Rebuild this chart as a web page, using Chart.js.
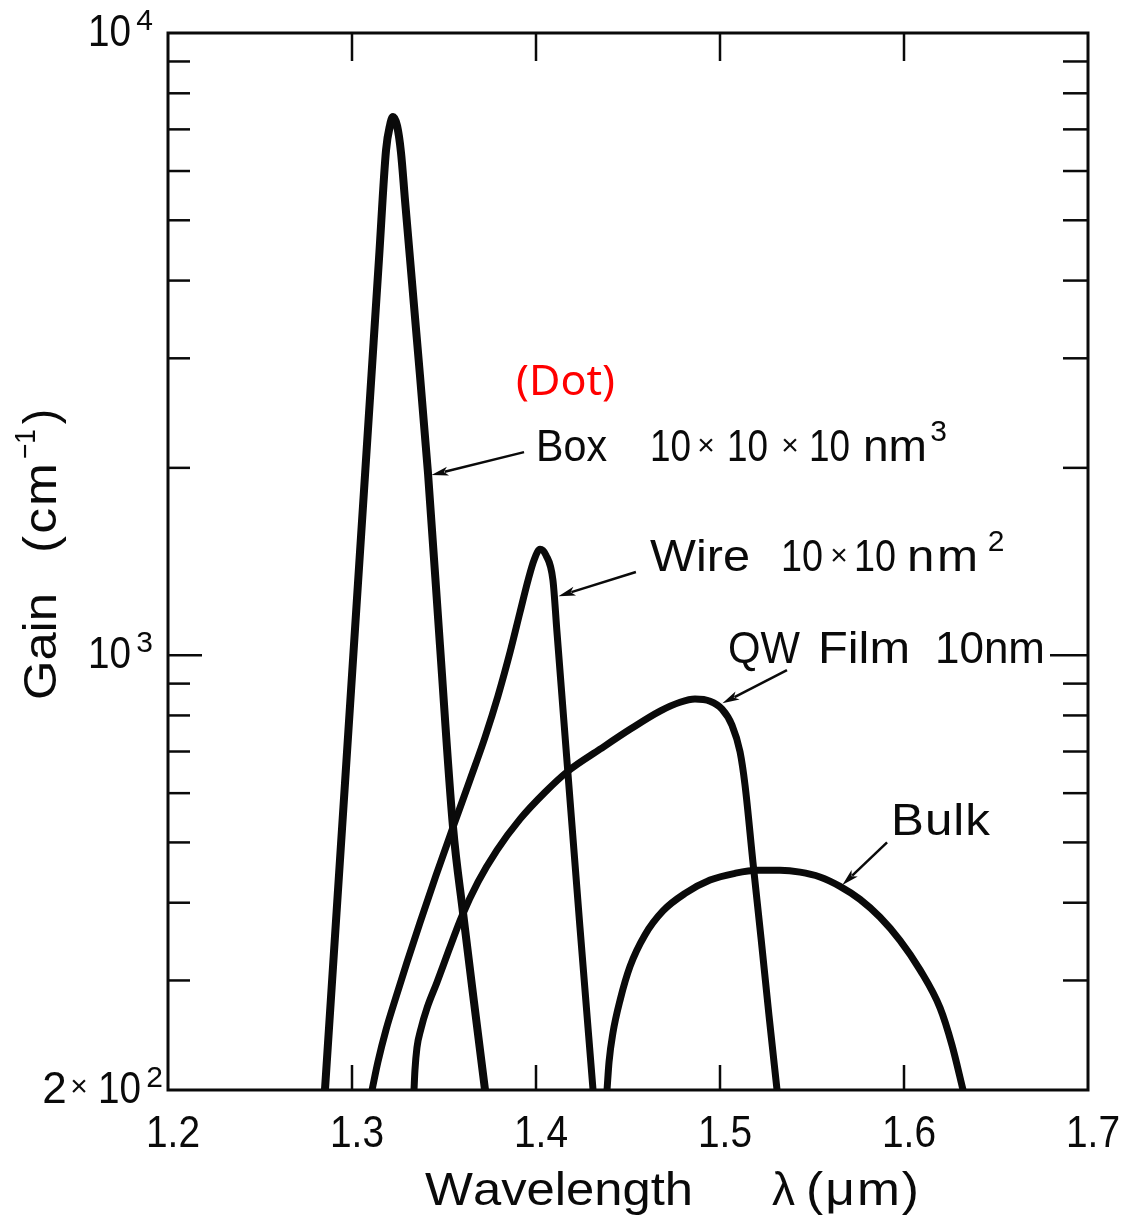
<!DOCTYPE html>
<html>
<head>
<meta charset="utf-8">
<script src="https://cdn.jsdelivr.net/npm/chart.js@4.4.1/dist/chart.umd.min.js"></script>
<style>
  html, body { margin: 0; padding: 0; background: #ffffff; }
  canvas { display: block; }
</style>
</head>
<body>
<canvas id="c" width="1134" height="1217"></canvas>
<script>
// ---------------- data ----------------
const seriesNames = ['Box 10 x 10 x 10 nm3 (Dot)', 'Wire 10 x 10 nm2', 'QW Film 10nm', 'Bulk'];

const boxX  = [1.2853, 1.2962, 1.3071, 1.3147, 1.3185, 1.3207, 1.3223, 1.3245, 1.3266, 1.3288, 1.3353, 1.3413, 1.3478, 1.3549, 1.3603, 1.3663, 1.3723];
const boxY  = [200, 623, 1954, 4348, 6484, 7114, 7328, 7088, 6436, 5389, 3209, 1962, 1038, 529, 386, 277, 200];

const wireX = [1.3109, 1.3141, 1.3185, 1.3234, 1.3299, 1.3370, 1.3457, 1.3549, 1.3641, 1.3723, 1.3793, 1.3859, 1.3913, 1.3957, 1.3989, 1.4022, 1.4054, 1.4092, 1.4114, 1.4168, 1.4239, 1.4310];
const wireY = [200, 222, 250, 279, 321, 372, 443, 529, 630, 738, 859, 1011, 1172, 1320, 1421, 1480, 1448, 1320, 1089, 678, 365, 200];

const qwX   = [1.3337, 1.3342, 1.3353, 1.3375, 1.3408, 1.3462, 1.3527, 1.3598, 1.3685, 1.3788, 1.3913, 1.4049, 1.4174, 1.4348, 1.4511, 1.4674, 1.4783, 1.4864, 1.4946, 1.5011, 1.5065, 1.5109, 1.5136, 1.5179, 1.5223, 1.5266, 1.5310];
const qwY   = [200, 215, 234, 251, 271, 298, 336, 381, 432, 486, 545, 602, 651, 706, 760, 813, 840, 850, 843, 819, 772, 699, 618, 465, 351, 264, 200];

const bulkX = [1.4386, 1.4397, 1.4418, 1.4457, 1.4511, 1.4592, 1.4690, 1.4810, 1.4946, 1.5082, 1.5201, 1.5326, 1.5435, 1.5543, 1.5652, 1.5761, 1.5870, 1.5978, 1.6087, 1.6196, 1.6261, 1.6321];
const bulkY = [200, 222, 247, 279, 316, 355, 388, 414, 435, 446, 451, 451, 448, 440, 425, 405, 379, 348, 312, 271, 236, 200];

const xTickValues = [1.2, 1.3, 1.4, 1.5, 1.6, 1.7];
const xTickLabels = ['1.2', '1.3', '1.4', '1.5', '1.6', '1.7'];
const yTickValues = [10000, 1000, 200];
const yTickMantissa = ['', '', '2'];
const yTickExponent = ['4', '3', '2'];
const yMinorTicks = [300, 400, 500, 600, 700, 800, 900, 2000, 3000, 4000, 5000, 6000, 7000, 8000, 9000];
const yMajorTicks = [1000];

// ---------------- helpers ----------------
const INK = '#0a0a0a';
const FONT = '"Liberation Sans", Arial, sans-serif';

function pts(xs, ys) { return xs.map((v, i) => ({ x: v, y: ys[i] })); }

// draw text so that it spans x0..x1 (mild horizontal scaling + letter spacing)
function fitText(ctx, str, x0, x1, base, size, family, color) {
  ctx.save();
  ctx.font = size + 'px ' + (family || FONT);
  ctx.fillStyle = color || INK;
  ctx.textBaseline = 'alphabetic';
  ctx.textAlign = 'left';
  const chars = Array.from(str);
  const ws = chars.map(c => ctx.measureText(c).width);
  const total = ws.reduce((s, w) => s + w, 0);
  const target = x1 - x0;
  if (chars.length === 1) {
    ctx.fillText(str, x0 + (target - total) / 2, base);
    ctx.restore();
    return;
  }
  let sx = Math.max(0.8, Math.min(1.12, target / total));
  let gap = (target - total * sx) / (chars.length - 1);
  if (gap < 0) { sx = target / total; gap = 0; }
  ctx.translate(x0, base);
  ctx.scale(sx, 1);
  let cx = 0;
  chars.forEach((c, i) => { ctx.fillText(c, cx, 0); cx += ws[i] + gap / sx; });
  ctx.restore();
}

function arrow(ctx, x1, y1, x2, y2) {
  const ang = Math.atan2(y2 - y1, x2 - x1);
  const L = 17, W = 4.5;
  const c = Math.cos(ang), s = Math.sin(ang);
  ctx.beginPath();
  ctx.moveTo(x1, y1);
  ctx.lineTo(x2 - c * L * 0.8, y2 - s * L * 0.8);
  ctx.stroke();
  ctx.beginPath();
  ctx.moveTo(x2, y2);
  ctx.lineTo(x2 - c * L - s * W, y2 - s * L + c * W);
  ctx.lineTo(x2 - c * L * 0.75, y2 - s * L * 0.75);
  ctx.lineTo(x2 - c * L + s * W, y2 - s * L - c * W);
  ctx.closePath();
  ctx.fill();
}

const overlay = {
  id: 'overlay',
  afterDatasetsDraw(chart) {
    const ctx = chart.ctx;
    const a = chart.chartArea;
    const xs = chart.scales.x, ys = chart.scales.y;
    const line = (x1, y1, x2, y2) => { ctx.beginPath(); ctx.moveTo(x1, y1); ctx.lineTo(x2, y2); ctx.stroke(); };
    ctx.save();
    ctx.strokeStyle = INK;
    ctx.fillStyle = INK;
    ctx.lineCap = 'butt';

    // inward tick marks
    ctx.lineWidth = 2.5;
    yMinorTicks.forEach(v => {
      const p = ys.getPixelForValue(v);
      line(a.left, p, a.left + 22, p);
      line(a.right - 25, p, a.right, p);
    });
    yMajorTicks.forEach(v => {
      const p = ys.getPixelForValue(v);
      line(a.left, p, a.left + 34, p);
      line(a.right - 38, p, a.right, p);
    });
    xTickValues.slice(1, -1).forEach(v => {
      const p = xs.getPixelForValue(v);
      line(p, a.top, p, a.top + 28);
      line(p, a.bottom - 25, p, a.bottom);
    });

    // frame
    ctx.lineWidth = 3;
    ctx.strokeRect(a.left, a.top, a.right - a.left, a.bottom - a.top);

    // x tick labels
    xTickValues.forEach((v, i) => {
      const p = xs.getPixelForValue(v) + 5;
      fitText(ctx, xTickLabels[i], p - 27, p + 27, a.bottom + 57, 44);
    });

    // y tick labels (10^n style)
    yTickValues.forEach((v, i) => {
      const p = ys.getPixelForValue(v);
      const R = yTickMantissa[i] ? a.left - 4 : a.left - 14;
      fitText(ctx, yTickExponent[i], R - 19, R, p - 3, 30);
      fitText(ctx, '10', R - 66, R - 23, p + 13, 44);
      if (yTickMantissa[i]) {
        fitText(ctx, '\u00d7', R - 93, R - 77, p + 6, 30);
        fitText(ctx, yTickMantissa[i], R - 119, R - 100, p + 13, 44);
      }
    });

    // axis titles
    fitText(ctx, 'Wavelength', 425, 693, 1205, 46);
    fitText(ctx, '\u03bb', 773, 794, 1205, 46);
    fitText(ctx, '(\u03bcm)', 806, 919, 1205, 46);

    ctx.save();
    ctx.translate(56, 705);
    ctx.rotate(-Math.PI / 2);
    fitText(ctx, 'Gain', 5, 112, 0, 46);
    fitText(ctx, '(cm', 152, 242, 0, 46);
    fitText(ctx, '\u22121', 246, 276, -21, 30);
    fitText(ctx, ')', 279, 298, 0, 46);
    ctx.restore();

    // curve labels
    fitText(ctx, '(Dot)', 516, 615, 395, 42, '"Noto Sans", "Open Sans", sans-serif', '#ff0000');

    fitText(ctx, 'Box', 536, 607, 461, 44);
    fitText(ctx, '10', 650, 691, 461, 44);
    fitText(ctx, '\u00d7', 697, 715, 455, 30);
    fitText(ctx, '10', 727, 768, 461, 44);
    fitText(ctx, '\u00d7', 781, 799, 455, 30);
    fitText(ctx, '10', 809, 850, 461, 44);
    fitText(ctx, 'nm', 863, 927, 461, 44);
    fitText(ctx, '3', 930, 947, 441, 30);

    fitText(ctx, 'Wire', 650, 750, 571, 44);
    fitText(ctx, '10', 781, 823, 571, 44);
    fitText(ctx, '\u00d7', 831, 847, 565, 30);
    fitText(ctx, '10', 854, 896, 571, 44);
    fitText(ctx, 'nm', 907, 978, 571, 44);
    fitText(ctx, '2', 986, 1006, 551, 30);

    fitText(ctx, 'QW', 728, 800, 663, 44);
    fitText(ctx, 'Film', 818, 910, 663, 44);
    fitText(ctx, '10nm', 935, 1045, 663, 44);

    fitText(ctx, 'Bulk', 891, 990, 835, 44);

    // leader arrows (data coordinates: tail -> tip on the curve)
    const arrowsData = chart.options.plugins.overlay.arrows;
    ctx.lineWidth = 2.5;
    arrowsData.forEach(d => {
      arrow(ctx, xs.getPixelForValue(d[0]), ys.getPixelForValue(d[1]),
                 xs.getPixelForValue(d[2]), ys.getPixelForValue(d[3]));
    });
    ctx.restore();
  }
};

const mk = (label, xsArr, ysArr, w) => ({
  label: label,
  data: pts(xsArr, ysArr),
  borderColor: INK,
  backgroundColor: INK,
  borderWidth: w,
  pointRadius: 0,
  pointHoverRadius: 0,
  fill: false,
  cubicInterpolationMode: 'monotone',
  borderCapStyle: 'round',
  borderJoinStyle: 'round'
});

new Chart(document.getElementById('c'), {
  type: 'line',
  data: {
    datasets: [
      mk(seriesNames[0], boxX, boxY, 8),
      mk(seriesNames[1], wireX, wireY, 7),
      mk(seriesNames[2], qwX, qwY, 7),
      mk(seriesNames[3], bulkX, bulkY, 7)
    ]
  },
  options: {
    responsive: false,
    animation: false,
    devicePixelRatio: 1,
    layout: { padding: { left: 168, right: 46, top: 33, bottom: 127 } },
    scales: {
      x: { type: 'linear', min: 1.2, max: 1.7, display: false },
      y: { type: 'logarithmic', min: 200, max: 10000, display: false }
    },
    plugins: {
      legend: { display: false },
      tooltip: { enabled: false },
      overlay: {
        arrows: [
          [1.3935, 2120, 1.3432, 1947],
          [1.4543, 1360, 1.4122, 1244],
          [1.5364, 946, 1.5013, 837],
          [1.5908, 500, 1.5665, 427]
        ]
      }
    }
  },
  plugins: [overlay]
});
</script>
</body>
</html>
